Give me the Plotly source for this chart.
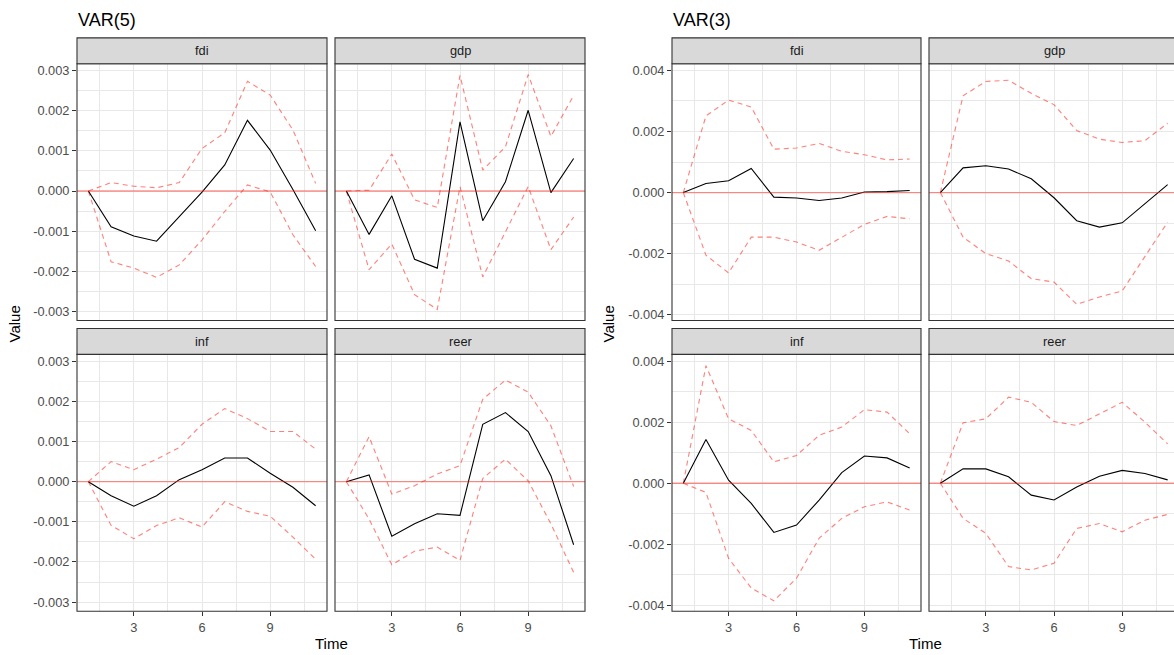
import plotly.graph_objects as go

W, H = 1174, 655

time = list(range(1, 12))
facets = ["fdi", "gdp", "inf", "reer"]

# ---- VAR(5) ----
v5_fdi_irf = [0, -0.00089, -0.00112, -0.00125, -0.00064, -0.00003, 0.00065, 0.00176, 0.00102, 0.00004, -0.00099]
v5_fdi_upper = [0, 0.00021, 0.00012, 0.00008, 0.00021, 0.00106, 0.00145, 0.00273, 0.00239, 0.00152, 0.00019]
v5_fdi_lower = [0, -0.00176, -0.00192, -0.00215, -0.00184, -0.00122, -0.00051, 0.00015, -0.00002, -0.00109, -0.00188]

v5_gdp_irf = [0, -0.00108, -0.00012, -0.0017, -0.00192, 0.00172, -0.00074, 0.00023, 0.00201, -0.00004, 0.00081]
v5_gdp_upper = [0, 0.00002, 0.00092, -0.00022, -0.00041, 0.00288, 0.00052, 0.0011, 0.0029, 0.00136, 0.00238]
v5_gdp_lower = [0, -0.00196, -0.00132, -0.00258, -0.00295, 0.00011, -0.00214, -0.00103, 0.00011, -0.00146, -0.00065]

v5_inf_irf = [0, -0.00035, -0.00061, -0.00035, 0.00005, 0.0003, 0.00059, 0.00059, 0.00021, -0.00014, -0.0006]
v5_inf_upper = [0, 0.0005, 0.0003, 0.00056, 0.00085, 0.00143, 0.00182, 0.00157, 0.00125, 0.00125, 0.00081]
v5_inf_lower = [0, -0.00109, -0.00142, -0.00109, -0.0009, -0.00113, -0.0005, -0.00074, -0.00086, -0.00138, -0.00193]

v5_reer_irf = [0, 0.00017, -0.00136, -0.00105, -0.0008, -0.00084, 0.00143, 0.00172, 0.00125, 0.00015, -0.00157]
v5_reer_upper = [0, 0.00112, -0.00031, -0.0001, 0.00019, 0.0004, 0.00205, 0.00253, 0.00223, 0.00139, -0.00012]
v5_reer_lower = [0, -0.00093, -0.00207, -0.00173, -0.00163, -0.00196, 0.00008, 0.00056, 0.00002, -0.00105, -0.00226]

# ---- VAR(3) ----
v3_fdi_irf = [0, 0.0003, 0.00039, 0.00079, -0.00015, -0.00018, -0.00026, -0.00018, 0.00002, 0.00003, 0.00007]
v3_fdi_upper = [0, 0.00251, 0.00303, 0.0028, 0.00142, 0.00146, 0.00161, 0.00135, 0.00124, 0.00107, 0.0011]
v3_fdi_lower = [0, -0.00205, -0.00263, -0.00146, -0.00146, -0.00162, -0.00189, -0.00146, -0.00104, -0.00078, -0.00086]

v3_gdp_irf = [0, 0.00081, 0.00088, 0.00077, 0.00045, -0.00017, -0.00092, -0.00113, -0.00099, -0.00037, 0.00026]
v3_gdp_upper = [0, 0.00317, 0.00364, 0.00368, 0.00325, 0.00288, 0.00203, 0.00175, 0.00164, 0.0017, 0.00227]
v3_gdp_lower = [0, -0.00146, -0.002, -0.00224, -0.00282, -0.00293, -0.00366, -0.00342, -0.00322, -0.00211, -0.00097]

v3_inf_irf = [0, 0.00143, 0.0001, -0.00066, -0.00161, -0.00137, -0.00055, 0.00035, 0.00089, 0.00083, 0.0005]
v3_inf_upper = [0, 0.00385, 0.00211, 0.00173, 0.0007, 0.00091, 0.00157, 0.00184, 0.00241, 0.00233, 0.00162]
v3_inf_lower = [0, -0.0003, -0.00246, -0.00343, -0.00385, -0.00311, -0.0018, -0.00115, -0.00077, -0.00061, -0.00088]

v3_reer_irf = [0, 0.00047, 0.00047, 0.00021, -0.00039, -0.00055, -0.00012, 0.00023, 0.00042, 0.00032, 0.00011]
v3_reer_upper = [0, 0.00198, 0.00211, 0.00282, 0.00265, 0.00202, 0.00189, 0.00227, 0.00265, 0.002, 0.00129]
v3_reer_lower = [0, -0.00115, -0.00164, -0.00273, -0.00284, -0.00262, -0.00148, -0.00132, -0.00159, -0.00121, -0.00102]

x_ticks = [3, 6, 9]
x_ticktext = ["3", "6", "9"]
x_minor = [1.5, 4.5, 7.5, 10.5]
v5_yticks = [-0.003, -0.002, -0.001, 0.0, 0.001, 0.002, 0.003]
v5_yticktext = ["-0.003", "-0.002", "-0.001", "0.000", "0.001", "0.002", "0.003"]
v5_yminor = [-0.0025, -0.0015, -0.0005, 0.0005, 0.0015, 0.0025]
v3_yticks = [-0.004, -0.002, 0.0, 0.002, 0.004]
v3_yticktext = ["-0.004", "-0.002", "0.000", "0.002", "0.004"]
v3_yminor = [-0.003, -0.001, 0.001, 0.003]

models = [
    {
        "title": "VAR(5)",
        "data": {
            "fdi": (v5_fdi_irf, v5_fdi_upper, v5_fdi_lower),
            "gdp": (v5_gdp_irf, v5_gdp_upper, v5_gdp_lower),
            "inf": (v5_inf_irf, v5_inf_upper, v5_inf_lower),
            "reer": (v5_reer_irf, v5_reer_upper, v5_reer_lower),
        },
        "yticks": v5_yticks, "yticktext": v5_yticktext, "yminor": v5_yminor,
        "yrange": [-0.003225, 0.00317],
        "cols": [(77, 327), (335, 585)],
        "ylab_x": 15, "xlab_x": 331,
    },
    {
        "title": "VAR(3)",
        "data": {
            "fdi": (v3_fdi_irf, v3_fdi_upper, v3_fdi_lower),
            "gdp": (v3_gdp_irf, v3_gdp_upper, v3_gdp_lower),
            "inf": (v3_inf_irf, v3_inf_upper, v3_inf_lower),
            "reer": (v3_reer_irf, v3_reer_upper, v3_reer_lower),
        },
        "yticks": v3_yticks, "yticktext": v3_yticktext, "yminor": v3_yminor,
        "yrange": [-0.00419, 0.00422],
        "cols": [(672, 921), (929, 1179)],
        "ylab_x": 609, "xlab_x": 925,
    },
]

rows = [((37, 63), (63, 321)), ((329, 355), (355, 613))]

def fx(p):
    return p / W

def fy(p):
    return 1 - p / H

FONT = "Liberation Sans, Arial, sans-serif"
BORDER = "#333333"
GRID = "#E8E8E8"
BAND = "rgba(255,60,50,0.65)"
ZERO = "rgba(255,40,30,0.5)"

fig = go.Figure()
layout = {}
shapes = []
annotations = []
idx = 0
for m in models:
    for fi, fac in enumerate(facets):
        r, c = divmod(fi, 2)
        idx += 1
        (sy0, sy1), (py0, py1) = rows[r]
        cx0, cx1 = m["cols"][c]
        vis_x1 = min(cx1, W)
        full_w = cx1 - cx0
        xr = [0.5, 0.5 + 11.0 * (vis_x1 - cx0) / full_w]
        xn = "x" if idx == 1 else f"x{idx}"
        yn = "y" if idx == 1 else f"y{idx}"
        irf, up, lo = m["data"][fac]
        for vals, dash, col, w in ((up, "5px,4px", BAND, 1.1), (lo, "5px,4px", BAND, 1.1), (irf, "solid", "black", 1.1)):
            fig.add_trace(go.Scatter(x=time, y=vals, mode="lines", xaxis=xn, yaxis=yn,
                                     line=dict(color=col, width=w, dash=dash),
                                     showlegend=False, hoverinfo="skip"))
        bottom = r == 1
        left = c == 0
        layout["xaxis" if idx == 1 else f"xaxis{idx}"] = dict(
            domain=[fx(cx0), fx(vis_x1)], anchor=yn, range=xr,
            tickvals=x_ticks, ticktext=x_ticktext, showticklabels=bottom,
            ticks="outside" if bottom else "", ticklen=4, tickcolor=BORDER, tickwidth=1,
            showgrid=True, gridcolor=GRID, gridwidth=1, zeroline=False, showline=False,
            minor=dict(tickvals=x_minor, showgrid=True, gridcolor=GRID, gridwidth=0.6, ticks=""),
            tickfont=dict(family=FONT, size=12.8, color="#4D4D4D"), fixedrange=True,
        )
        layout["yaxis" if idx == 1 else f"yaxis{idx}"] = dict(
            domain=[fy(py1), fy(py0)], anchor=xn, range=m["yrange"],
            tickvals=m["yticks"], ticktext=m["yticktext"], showticklabels=left,
            ticks="outside" if left else "", ticklen=4, tickcolor=BORDER, tickwidth=1,
            showgrid=True, gridcolor=GRID, gridwidth=1, zeroline=False, showline=False,
            minor=dict(tickvals=m["yminor"], showgrid=True, gridcolor=GRID, gridwidth=0.6, ticks=""),
            tickfont=dict(family=FONT, size=12.8, color="#4D4D4D"), fixedrange=True,
        )
        # zero reference line
        shapes.append(dict(type="line", xref="paper", yref=yn, x0=fx(cx0), x1=fx(vis_x1), y0=0, y1=0,
                           line=dict(color=ZERO, width=1.3), layer="above"))
        # panel border
        shapes.append(dict(type="rect", xref="paper", yref="paper",
                           x0=fx(cx0), x1=fx(cx1), y0=fy(py1), y1=fy(py0),
                           line=dict(color=BORDER, width=1.1), fillcolor="rgba(0,0,0,0)", layer="above"))
        # strip
        shapes.append(dict(type="rect", xref="paper", yref="paper",
                           x0=fx(cx0), x1=fx(cx1), y0=fy(sy1), y1=fy(sy0),
                           line=dict(color=BORDER, width=1.1), fillcolor="#D9D9D9", layer="above"))
        annotations.append(dict(text=fac, xref="paper", yref="paper",
                                x=fx((cx0 + cx1) / 2), y=fy((sy0 + sy1) / 2),
                                showarrow=False, xanchor="center", yanchor="middle",
                                font=dict(family=FONT, size=12.8, color="#1A1A1A")))
    # titles and axis labels
    x0 = m["cols"][0][0]
    annotations.append(dict(text=m["title"], xref="paper", yref="paper", x=fx(x0 - 1), y=fy(19),
                            showarrow=False, xanchor="left", yanchor="middle",
                            font=dict(family=FONT, size=18, color="black")))
    annotations.append(dict(text="Value", xref="paper", yref="paper", x=fx(m["ylab_x"]), y=fy(325),
                            showarrow=False, xanchor="center", yanchor="middle", textangle=-90,
                            font=dict(family=FONT, size=15, color="black")))
    annotations.append(dict(text="Time", xref="paper", yref="paper", x=fx(m["xlab_x"]), y=fy(645),
                            showarrow=False, xanchor="center", yanchor="middle",
                            font=dict(family=FONT, size=15, color="black")))

fig.update_layout(**layout)
fig.update_layout(width=W, height=H, margin=dict(l=0, r=0, t=0, b=0),
                  paper_bgcolor="white", plot_bgcolor="white",
                  shapes=shapes, annotations=annotations, showlegend=False)
fig.write_html("out.html", config={"displayModeBar": False})
